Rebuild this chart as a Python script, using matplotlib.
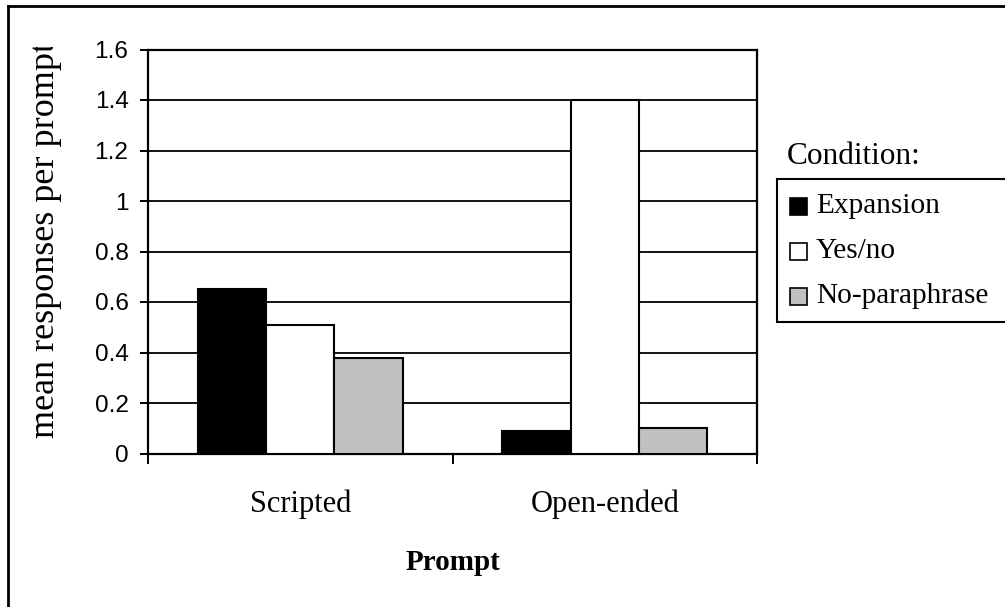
import matplotlib.pyplot as plt
from matplotlib.patches import Rectangle
from matplotlib.lines import Line2D
from matplotlib.transforms import Bbox
import numpy as np

categories = ['Scripted', 'Open-ended']
conditions = ['Expansion', 'Yes/no', 'No-paraphrase']
expansion = [0.65, 0.09]
yes_no = [0.51, 1.40]
no_paraphrase = [0.38, 0.10]
series = [expansion, yes_no, no_paraphrase]
colors = ['black', 'white', '#c0c0c0']
yticks = [0, 0.2, 0.4, 0.6, 0.8, 1.0, 1.2, 1.4, 1.6]
ytick_labels = ['0', '0.2', '0.4', '0.6', '0.8', '1', '1.2', '1.4', '1.6']

W, H = 1005, 607
serif = 'Liberation Serif'
sans = 'Liberation Sans'

fig = plt.figure(figsize=(W / 100, H / 100), dpi=100)
fig.patch.set_facecolor('white')

# plot area in pixels: x 148..757, y 49.5..453.5
ax = fig.add_axes([148 / W, 1 - 453.5 / H, 609 / W, 404 / H])

x = np.arange(len(categories))
bw = 0.224
for i, vals in enumerate(series):
    ax.bar(x + (i - 1) * bw, vals, width=bw, color=colors[i],
           edgecolor='black', linewidth=1.5, zorder=3)

ax.set_xlim(-0.5, 1.5)
ax.set_ylim(0, 1.6)
ax.set_yticks(yticks)
ax.set_yticklabels(ytick_labels, fontfamily=sans, fontsize=17.6)
ax.yaxis.grid(True, color='black', linewidth=1.3, zorder=0)
ax.set_axisbelow(True)
ax.tick_params(axis='y', length=6, width=1.4, pad=8, direction='out')

# category labels centred, ticks at the category boundaries
ax.set_xticks(x)
ax.set_xticklabels(categories, fontfamily=serif, fontsize=22)
ax.tick_params(axis='x', which='major', length=0, pad=26)
ax.set_xticks([-0.5, 0.5, 1.5], minor=True)
ax.tick_params(axis='x', which='minor', length=7, width=1.4, direction='out')

for s in ax.spines.values():
    s.set_linewidth(1.6)
    s.set_color('black')

def fx(px):
    return px / W

def fy(py):
    return 1 - py / H

# y title, cut off at the top like the original
yl = fig.text(fx(46), fy(240), 'mean responses per prompt', fontfamily=serif,
              fontsize=26, rotation=90, ha='center', va='center')
yl.set_clip_box(Bbox.from_extents(0, 0, W, H - 47))
yl.set_clip_on(True)

ax.text(0.5, -0.27, 'Prompt', transform=ax.transAxes, ha='center', va='center',
        fontfamily=serif, fontsize=21, fontweight='bold')

# legend drawn in pixel coordinates of the figure
fig.text(fx(787), fy(156), 'Condition:', fontfamily=serif, fontsize=22.5,
         ha='left', va='center')
fig.patches.append(Rectangle((fx(777), fy(322)), fx(1010) - fx(777), fy(179) - fy(322),
                             transform=fig.transFigure, facecolor='white',
                             edgecolor='black', linewidth=1.5, clip_on=False))
for i, name in enumerate(conditions):
    yc = 206 + i * 45
    fig.patches.append(Rectangle((fx(790), fy(yc + 8.5)), fx(17), 17 / H,
                                 transform=fig.transFigure, facecolor=colors[i],
                                 edgecolor='black', linewidth=1.2))
    fig.text(fx(816), fy(yc), name, fontfamily=serif, fontsize=21.2,
             ha='left', va='center')

# outer chart border (right and bottom edges fall outside the picture)
fig.lines.append(Line2D([fx(8), fx(8)], [fy(6), fy(610)], transform=fig.transFigure,
                        color='black', linewidth=2))
fig.lines.append(Line2D([fx(8), fx(1010)], [fy(6), fy(6)], transform=fig.transFigure,
                        color='black', linewidth=2))

fig.savefig('out.png', dpi=100)
